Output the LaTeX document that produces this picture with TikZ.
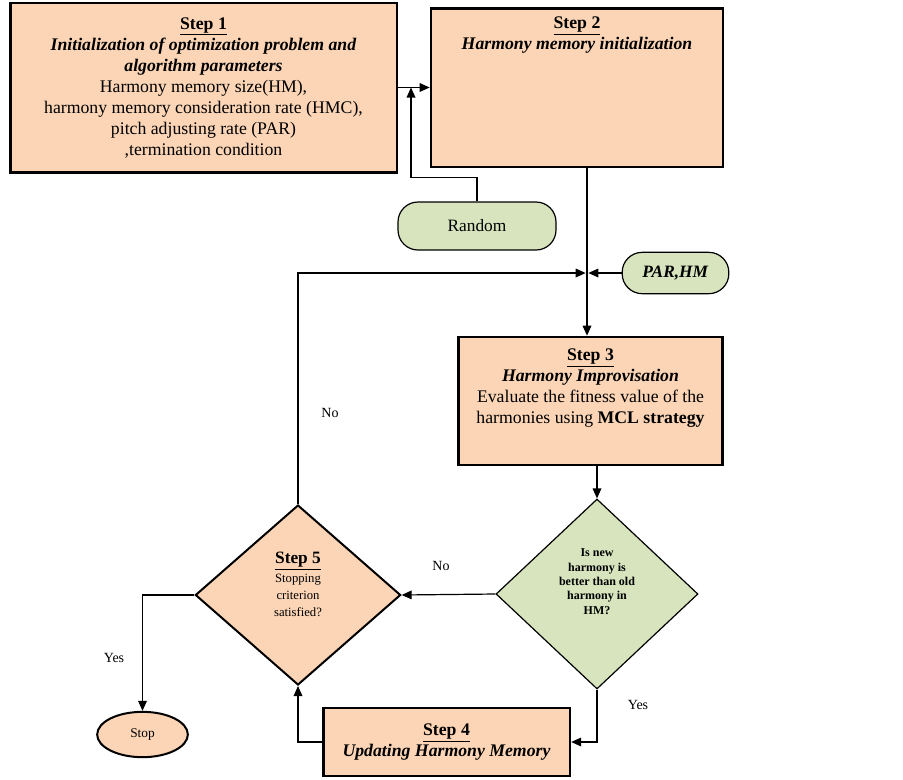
\documentclass[tikz,border=0pt]{standalone}
\usepackage{fontspec}
\setmainfont{Liberation Serif}
\usetikzlibrary{arrows.meta,shapes.geometric,positioning,calc}
\definecolor{peach}{RGB}{251,213,181}
\definecolor{sage}{RGB}{215,228,189}
\tikzset{
	stepbox/.style={draw, line width=2pt, fill=peach, align=center, font=\fontsize{13.3}{15.75}\selectfont},
	steptext/.style={anchor=north, align=center, font=\fontsize{13.3}{15.75}\selectfont},
	greenpill/.style={draw, line width=0.9pt, fill=sage, rounded corners=15pt, font=\fontsize{13}{15}\selectfont},
	conn/.style={line width=0.9pt, -{Triangle[length=7.5pt,width=6.5pt]}},
	lbl/.style={font=\fontsize{10.5}{12}\selectfont},
}

\begin{document}
\begin{tikzpicture}[x=0.75pt,y=-0.75pt]
	\useasboundingbox (0,0) rectangle (903,779);

	%Step 1 and Step 2
	\node[stepbox, minimum width=290pt, minimum height=127pt] (step1) at (203.5,87.5) {\underline{\textbf{Step 1}}\\
		\textbf{\textit{Initialization of optimization problem and}}\\
		\textbf{\textit{algorithm parameters}}\\
		Harmony memory size(HM),\\
		harmony memory consideration rate (HMC),\\
		pitch adjusting rate (PAR)\\
		,termination condition};
	\node[stepbox, minimum width=219pt, minimum height=119pt] (step2) at (577,87.5) {};
	\node[steptext] (step2txt) at ([yshift=-4pt]step2.north) {\underline{\textbf{Step 2}}\\
		\textbf{\textit{Harmony memory initialization}}};

	%inputs
	\node[greenpill, minimum width=118.5pt, minimum height=36pt] (random) at (477,226) {Random};
	\node[greenpill, minimum width=80pt, minimum height=31pt] (parhm) at (675.5,273) {\textbf{\textit{PAR,HM}}};

	%Step 3
	\node[stepbox, minimum width=198pt, minimum height=96pt] (step3) at (590.5,401) {};
	\node[steptext] (step3txt) at ([yshift=-6pt]step3.north) {\underline{\textbf{Step 3}}\\
		\textbf{\textit{Harmony Improvisation}}\\
		Evaluate the fitness value of the\\
		harmonies using \textbf{MCL strategy}};

	%decisions
	\node[diamond, draw, line width=0.9pt, fill=sage, inner sep=0pt, minimum width=151.5pt, minimum height=142.5pt, align=center, font=\fontsize{9}{10.7}\selectfont\bfseries] (better) at (597,594) {Is new\\ harmony is\\ better than old\\ harmony in\\ HM?\\[8pt]};
	\node[diamond, draw, line width=1.5pt, fill=peach, inner sep=0pt, minimum width=154pt, minimum height=135pt, align=center, font=\fontsize{9.5}{12.5}\selectfont] (step5) at (298,595) {{\fontsize{13}{14}\selectfont\underline{\textbf{Step 5}}}\\[2pt] Stopping\\ criterion\\ satisfied?\\[4pt]};

	%Step 4 and Stop
	\node[stepbox, minimum width=185pt, minimum height=51pt] (step4) at (446.5,742) {\underline{\textbf{Step 4}}\\
		\textbf{\textit{Updating Harmony Memory}}};
	\node[ellipse, draw, line width=1.5pt, fill=peach, minimum width=68pt, minimum height=34pt, font=\fontsize{10}{12}\selectfont] (stop) at (142.5,734.5) {Stop};

	%connectors
	\coordinate (join) at (587,273);
	\coordinate (rjoin) at (411,87.5);
	\draw[conn] (step1.east) -- (step1.east -| step2.west);
	\draw[conn] (random.north) -- ++(0,-24) -| (rjoin);
	\draw[conn] (step2.south -| join) -- (step3.north -| join);
	\draw[conn, shorten >=1pt] (parhm.west) -- (join);
	\draw[conn, shorten >=1pt] (step5.north) |- (join);
	\draw[conn] (step3.south -| better.north) -- (better.north);
	\draw[conn] (better.west) -- (step5.east);
	\draw[conn] (better.south) |- (step4.east);
	\draw[conn] (step4.west) -| (step5.south);
	\draw[conn] (step5.west) -| (stop.north);

	\foreach \txt/\xx/\yy in {No/441/566, No/330/413, Yes/114/658, Yes/638/705}{
		\node[lbl] (lbl\xx) at (\xx,\yy) {\txt};
	}
\end{tikzpicture}
\end{document}
